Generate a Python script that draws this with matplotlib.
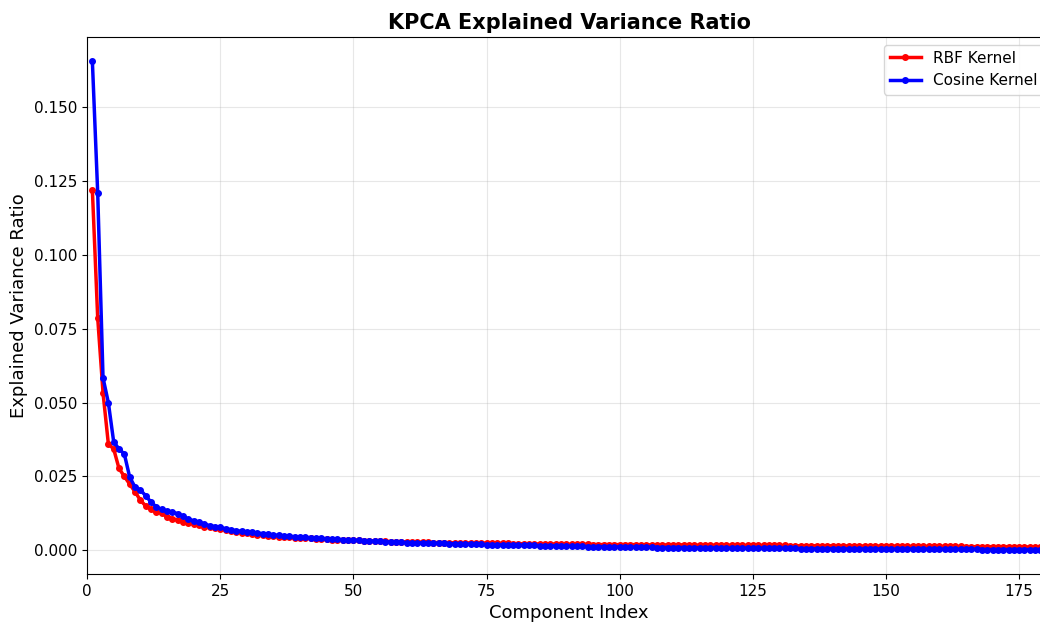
import numpy as np
import matplotlib
matplotlib.use("Agg")
import matplotlib.pyplot as plt

# explained variance ratio per component (components 1..180)
rbf_ratio = [
    0.1220, 0.0787, 0.0533, 0.0360, 0.0343, 0.0277, 0.0250, 0.0224, 0.0198, 0.0170,
    0.0150, 0.0140, 0.0131, 0.0125, 0.0114, 0.0107, 0.0102, 0.0097, 0.0092, 0.0089,
    0.0085, 0.0080, 0.0077, 0.0074, 0.0072, 0.0069, 0.0064, 0.0061, 0.0059, 0.0057,
    0.0055, 0.0053, 0.0051, 0.0049, 0.0048, 0.0046, 0.0045, 0.0044, 0.0043, 0.0042,
    0.0041, 0.0040, 0.0039, 0.0038, 0.0037, 0.0036, 0.0035, 0.0035, 0.0034, 0.0033,
    0.0033, 0.0032, 0.0031, 0.0031, 0.0030, 0.0030, 0.0029, 0.0029, 0.0028, 0.0028,
    0.0028, 0.0027, 0.0027, 0.0027, 0.0026, 0.0026, 0.0026, 0.0025, 0.0025, 0.0025,
    0.0025, 0.0024, 0.0024, 0.0024, 0.0024, 0.0023, 0.0023, 0.0023, 0.0023, 0.0022,
    0.0022, 0.0022, 0.0022, 0.0021, 0.0021, 0.0021, 0.0021, 0.0021, 0.0020, 0.0020,
    0.0020, 0.0020, 0.0020, 0.0020, 0.0019, 0.0019, 0.0019, 0.0019, 0.0019, 0.0019,
    0.0019, 0.0019, 0.0019, 0.0018, 0.0018, 0.0018, 0.0018, 0.0018, 0.0018, 0.0018,
    0.0018, 0.0018, 0.0017, 0.0017, 0.0017, 0.0017, 0.0017, 0.0017, 0.0017, 0.0017,
    0.0017, 0.0017, 0.0017, 0.0016, 0.0016, 0.0016, 0.0016, 0.0016, 0.0016, 0.0016,
    0.0016, 0.0015, 0.0015, 0.0015, 0.0015, 0.0015, 0.0015, 0.0015, 0.0015, 0.0015,
    0.0015, 0.0015, 0.0014, 0.0014, 0.0014, 0.0014, 0.0014, 0.0014, 0.0014, 0.0014,
    0.0014, 0.0014, 0.0014, 0.0013, 0.0013, 0.0013, 0.0013, 0.0013, 0.0013, 0.0013,
    0.0013, 0.0013, 0.0013, 0.0013, 0.0012, 0.0012, 0.0012, 0.0012, 0.0012, 0.0012,
    0.0012, 0.0012, 0.0012, 0.0012, 0.0012, 0.0011, 0.0011, 0.0011, 0.0011, 0.0011,
]

cosine_ratio = [
    0.1656, 0.1211, 0.0584, 0.0500, 0.0367, 0.0343, 0.0326, 0.0248, 0.0214, 0.0204,
    0.0185, 0.0163, 0.0147, 0.0138, 0.0133, 0.0129, 0.0124, 0.0115, 0.0105, 0.0100,
    0.0095, 0.0089, 0.0083, 0.0080, 0.0077, 0.0073, 0.0069, 0.0066, 0.0064, 0.0062,
    0.0060, 0.0058, 0.0056, 0.0054, 0.0052, 0.0050, 0.0049, 0.0047, 0.0046, 0.0045,
    0.0044, 0.0042, 0.0041, 0.0040, 0.0039, 0.0038, 0.0037, 0.0036, 0.0035, 0.0034,
    0.0033, 0.0032, 0.0031, 0.0031, 0.0030, 0.0029, 0.0028, 0.0028, 0.0027, 0.0026,
    0.0026, 0.0025, 0.0025, 0.0024, 0.0024, 0.0023, 0.0023, 0.0022, 0.0022, 0.0021,
    0.0021, 0.0020, 0.0020, 0.0020, 0.0019, 0.0019, 0.0018, 0.0018, 0.0018, 0.0017,
    0.0017, 0.0016, 0.0016, 0.0016, 0.0015, 0.0015, 0.0015, 0.0014, 0.0014, 0.0014,
    0.0013, 0.0013, 0.0013, 0.0012, 0.0012, 0.0012, 0.0012, 0.0011, 0.0011, 0.0011,
    0.0011, 0.0010, 0.0010, 0.0010, 0.0010, 0.0010, 0.0009, 0.0009, 0.0009, 0.0009,
    0.0009, 0.0009, 0.0008, 0.0008, 0.0008, 0.0008, 0.0008, 0.0008, 0.0008, 0.0007,
    0.0007, 0.0007, 0.0007, 0.0007, 0.0007, 0.0007, 0.0006, 0.0006, 0.0006, 0.0006,
    0.0006, 0.0006, 0.0006, 0.0005, 0.0005, 0.0005, 0.0005, 0.0005, 0.0005, 0.0005,
    0.0005, 0.0004, 0.0004, 0.0004, 0.0004, 0.0004, 0.0004, 0.0004, 0.0004, 0.0004,
    0.0003, 0.0003, 0.0003, 0.0003, 0.0003, 0.0003, 0.0003, 0.0003, 0.0003, 0.0003,
    0.0003, 0.0003, 0.0003, 0.0003, 0.0003, 0.0003, 0.0003, 0.0002, 0.0002, 0.0002,
    0.0002, 0.0002, 0.0002, 0.0002, 0.0002, 0.0002, 0.0002, 0.0002, 0.0002, 0.0002,
]

components = np.arange(1, len(rbf_ratio) + 1)

fig = plt.figure(figsize=(10.4, 6.24), dpi=100)
ax = fig.add_axes([0.0837, 0.0801, 0.927, 0.8606])

ax.plot(components, rbf_ratio, color='red', marker='o', markersize=4,
        linewidth=2.5, label='RBF Kernel')
ax.plot(components, cosine_ratio, color='blue', marker='o', markersize=4,
        linewidth=2.5, label='Cosine Kernel')

ax.set_xlim(0, 181)
ax.set_title('KPCA Explained Variance Ratio', fontsize=15, fontweight='bold')
ax.set_xlabel('Component Index', fontsize=13)
ax.set_ylabel('Explained Variance Ratio', fontsize=13)
ax.tick_params(labelsize=11)
ax.grid(True, alpha=0.3)
ax.legend(loc='upper right', fontsize=11)

fig.savefig('out.png', dpi=100)
